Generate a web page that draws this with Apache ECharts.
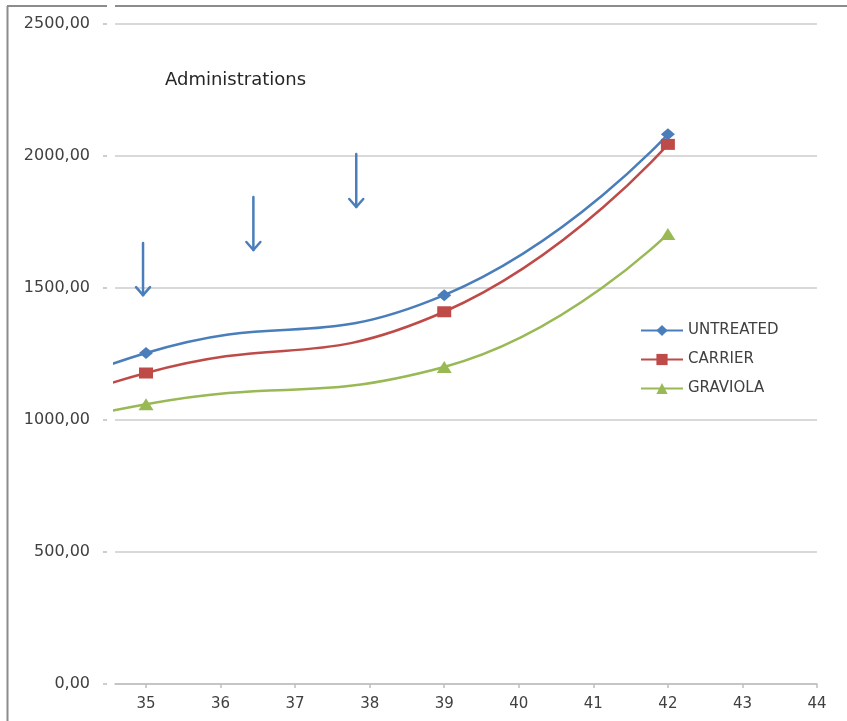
<!DOCTYPE html>
<html>
<head>
<meta charset="utf-8">
<script src="https://cdn.jsdelivr.net/npm/echarts@6/dist/echarts.min.js"></script>
<style>
  html, body { margin: 0; padding: 0; background: #ffffff; }
  #chart { width: 847px; height: 721px; }
</style>
</head>
<body>
<div id="chart"></div>
<script>
// Measurement days and tumour volume per group
const days = [32, 35, 39, 42];
const untreated = [880, 1254, 1473, 2082];
const carrier = [875, 1178, 1410, 2044];
const graviola = [845, 1060, 1201, 1705];

// Axis ticks
const dayTicks = [35, 36, 37, 38, 39, 40, 41, 42, 43, 44];

// Administration markers: day, arrow start and arrow tip (volume units)
const administrationDays = [34.96, 36.44, 37.82];
const arrowStart = [1670, 1845, 2008];
const arrowTip = [1473, 1644, 1807];

const FONT = 'DejaVu Sans';
const TEXT = '#404040';
const ARROW = '#4A7EBB';

function pairs(xs, ys) {
  return xs.map((x, i) => [x, ys[i]]);
}

const chart = echarts.init(document.getElementById('chart'), null, { renderer: 'canvas' });

const lineSeries = (name, values, color, symbol, size) => ({
  name: name,
  type: 'line',
  data: pairs(days, values),
  smooth: 0.5,
  clip: true,
  symbol: symbol,
  symbolSize: size,
  showAllSymbol: true,
  lineStyle: { color: color, width: 2.5 },
  itemStyle: { color: color },
  emphasis: { disabled: true },
  z: 3
});

chart.setOption({
  animation: false,
  backgroundColor: '#ffffff',
  title: {
    text: 'Administrations',
    left: 165,
    top: 71,
    padding: 0,
    textStyle: { fontFamily: FONT, fontSize: 18, fontWeight: 'normal', color: '#262626' }
  },
  legend: {
    orient: 'vertical',
    left: 640,
    top: 323,
    padding: 0,
    itemWidth: 42,
    itemHeight: 14,
    itemGap: 14,
    data: ['UNTREATED', 'CARRIER', 'GRAVIOLA'],
    textStyle: { fontFamily: FONT, fontSize: 15, color: TEXT, lineHeight: 14 }
  },
  grid: { left: 115, right: 30, top: 24, bottom: 37, containLabel: false },
  xAxis: {
    type: 'value',
    min: 34.584,
    max: 44,
    axisLine: { show: true, lineStyle: { color: '#bfbfbf', width: 1.5 } },
    axisTick: { show: true, length: 4, customValues: dayTicks, lineStyle: { color: '#bfbfbf', width: 1.5 } },
    axisLabel: {
      customValues: dayTicks,
      margin: 13,
      fontFamily: FONT,
      fontSize: 15,
      color: TEXT
    },
    splitLine: { show: false }
  },
  yAxis: {
    type: 'value',
    min: 0,
    max: 2500,
    interval: 500,
    offset: 8,
    axisLine: { show: false },
    axisTick: { show: true, length: 4, lineStyle: { color: '#bfbfbf', width: 1.5 } },
    axisLabel: {
      margin: 17,
      fontFamily: FONT,
      fontSize: 16,
      color: TEXT,
      formatter: v => v.toFixed(2).replace('.', ',')
    },
    splitLine: { show: true, lineStyle: { color: '#d9d9d9', width: 2 } }
  },
  series: [
    lineSeries('UNTREATED', untreated, '#4A7EBB', 'diamond', [14, 12]),
    lineSeries('CARRIER', carrier, '#BE4B48', 'rect', [14, 11]),
    lineSeries('GRAVIOLA', graviola, '#98B954', 'triangle', [15, 12]),
    {
      name: 'administration',
      type: 'custom',
      data: administrationDays.map((d, i) => [d, arrowStart[i], arrowTip[i]]),
      silent: true,
      z: 4,
      renderItem: function (params, api) {
        const start = api.coord([api.value(0), api.value(1)]);
        const tip = api.coord([api.value(0), api.value(2)]);
        const style = { stroke: ARROW, fill: null, lineWidth: 2.5, lineCap: 'round', lineJoin: 'round' };
        return {
          type: 'group',
          children: [
            { type: 'line', shape: { x1: start[0], y1: start[1], x2: tip[0], y2: tip[1] }, style: style },
            {
              type: 'polyline',
              shape: { points: [[tip[0] - 7, tip[1] - 8], [tip[0], tip[1]], [tip[0] + 7, tip[1] - 8]] },
              style: style
            }
          ]
        };
      }
    }
  ],
  graphic: [
    // frame around the chart
    { type: 'line', shape: { x1: 7.5, y1: 6, x2: 7.5, y2: 721 }, style: { stroke: '#8c8c8c', lineWidth: 2 }, silent: true },
    { type: 'line', shape: { x1: 7, y1: 6, x2: 107, y2: 6 }, style: { stroke: '#8c8c8c', lineWidth: 2 }, silent: true },
    { type: 'line', shape: { x1: 115, y1: 6, x2: 847, y2: 6 }, style: { stroke: '#8c8c8c', lineWidth: 2 }, silent: true }
  ]
});
</script>
</body>
</html>
